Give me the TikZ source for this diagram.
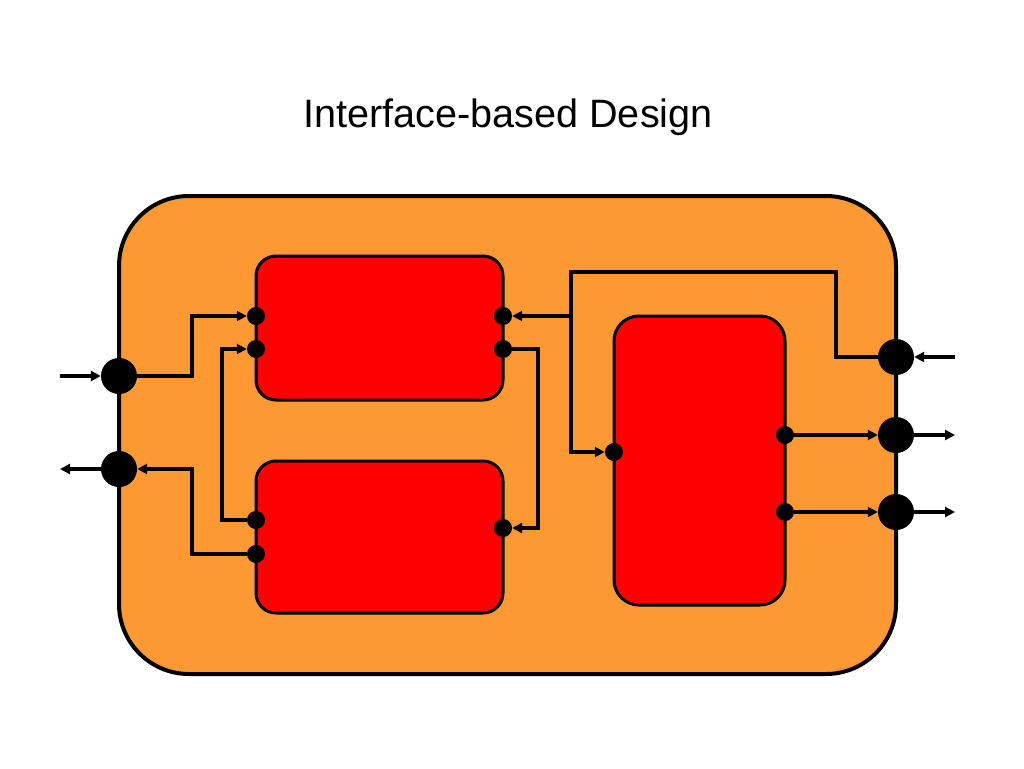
\documentclass[tikz,border=0pt]{standalone}
\usepackage{fontspec}
\setmainfont{Liberation Sans}
\usetikzlibrary{arrows.meta}
\definecolor{outerfill}{RGB}{253,153,51}
\definecolor{innerfill}{RGB}{255,0,0}
\begin{document}
\begin{tikzpicture}[x=1pt,y=-1pt,
  outerbox/.style={draw=black,line width=4pt,fill=outerfill,rounded corners=70pt},
  innerbox/.style={draw=black,line width=3pt,fill=innerfill},
  bigport/.style={circle,fill=black,inner sep=0pt,minimum size=36pt},
  smallport/.style={circle,fill=black,inner sep=0pt,minimum size=18pt},
  conn/.style={line width=3.4pt,-{Triangle[length=10pt,width=10pt]}}]
\useasboundingbox (0,0) rectangle (1024,768);
\node (title) at (508,117) {\fontsize{39.6}{44}\selectfont Interface-based Design};
% boxes
\draw[outerbox] (119,196) rectangle (896,674);
\node[innerbox,rounded corners=20pt,minimum width=247pt,minimum height=144pt,inner sep=0pt] (boxA) at (379.5,328) {};
\node[innerbox,rounded corners=20pt,minimum width=247pt,minimum height=152pt,inner sep=0pt] (boxB) at (379.5,537) {};
\node[innerbox,rounded corners=25pt,minimum width=171pt,minimum height=289pt,inner sep=0pt] (boxC) at (699.5,460.5) {};
% big ports
\node[bigport] (P1) at (119,376) {};
\node[bigport] (P2) at (119,469) {};
\node[bigport] (P3) at (896,357) {};
\node[bigport] (P4) at (896,435) {};
\node[bigport] (P5) at (896,512) {};
% small ports
\node[smallport] (a1) at (256,316) {};
\node[smallport] (a2) at (256,349) {};
\node[smallport] (a3) at (503,316) {};
\node[smallport] (a4) at (503,349) {};
\node[smallport] (b1) at (256,520) {};
\node[smallport] (b2) at (256,554) {};
\node[smallport] (b3) at (503,528) {};
\node[smallport] (c1) at (614,452) {};
\node[smallport] (c2) at (785,435) {};
\node[smallport] (c3) at (785,512) {};
% external ends
\coordinate (e1) at (60,376);
\coordinate (e2) at (60,469);
\coordinate (e3) at (955,357);
\coordinate (e4) at (955,435);
\coordinate (e5) at (955,512);
\coordinate (j1) at (571,316);
% connectors
\draw[conn] (e1) -- (P1);
\draw[conn] (P2) -- (e2);
\draw[conn] (e3) -- (P3);
\draw[conn] (P4) -- (e4);
\draw[conn] (P5) -- (e5);
\draw[conn] (P1) -- (192,376) |- (a1);
\draw[conn] (b2) -- (192,554) |- (P2);
\draw[conn] (b1) -- (222,520) |- (a2);
\draw[conn] (a4) -- (538,349) |- (b3);
\draw[conn] (P3) -- (836,357) |- (571,272) |- (c1);
\draw[conn] (j1) -- (a3);
\draw[conn] (c2) -- (P4);
\draw[conn] (c3) -- (P5);
\end{tikzpicture}
\end{document}
